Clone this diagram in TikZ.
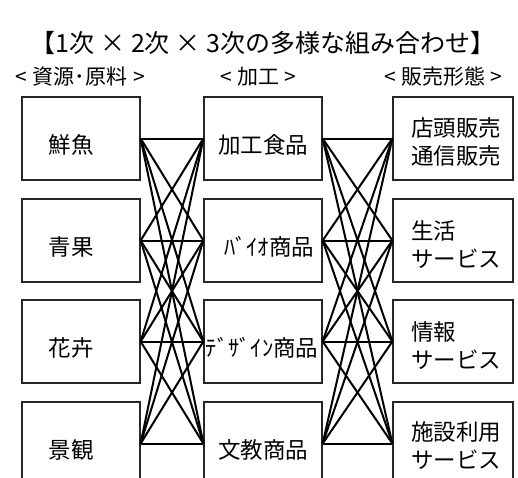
\documentclass[tikz,border=0pt]{standalone}
\usepackage{fontspec}
\setmainfont{Noto Sans CJK JP}
\begin{document}
\begin{tikzpicture}[x=1pt,y=-1pt,
  box/.style={draw=black!85, line width=1.3pt, minimum width=118pt, minimum height=83pt, inner sep=0pt},
  link/.style={line width=2pt, black},
  txt/.style={font=\fontsize{22.5}{28}\selectfont, inner sep=0pt},
  hdr/.style={font=\fontsize{21}{25}\selectfont, inner sep=0pt}]
\useasboundingbox (0,0) rectangle (518,477);
\clip (0,0) rectangle (518,477);
% boxes
\foreach \n/\y in {1/138.5,2/240.5,3/341.5,4/443.5}{
  \node[box] (L\n) at (81,\y) {};
  \node[box] (M\n) at (263,\y) {};
  \node[box, minimum width=120pt] (R\n) at (453,\y) {};
}
% links
\foreach \i in {1,...,4}{
  \foreach \j in {1,...,4}{
    \draw[link] (L\i.east) -- (M\j.west);
    \draw[link] (M\i.east) -- (R\j.west);
  }
}
% title and headers
\node[font=\fontsize{25}{30}\selectfont, inner sep=0pt] (title) at (263,43) {【1次 × 2次 × 3次の多様な組み合わせ】};
\node[hdr] (hA) at (80,77) {<\hspace{6pt}資源･原料\hspace{6pt}>};
\node[hdr] (hB) at (258,77) {<\hspace{5pt}加工\hspace{5pt}>};
\node[hdr] (hC) at (443,77) {<\hspace{5pt}販売形態\hspace{5pt}>};
% left texts
\node[txt] (tL1) at (71,145) {鮮魚};
\node[txt] (tL2) at (71,247) {青果};
\node[txt] (tL3) at (71,348) {花卉};
\node[txt] (tL4) at (71,450) {景観};
% middle texts
\node[txt] (tM1) at (263,145) {加工食品};
\node[txt] (tM2) at (269,247) {ﾊﾞｲｵ商品};
\node[txt] (tM3) at (262,348) {ﾃﾞｻﾞｲﾝ商品};
\node[txt] (tM4) at (263,450) {文教商品};
% right texts
\node[txt, anchor=west, align=left] (tR1) at (411,142) {店頭販売\\通信販売};
\node[txt, anchor=west, align=left] (tR2) at (411,245) {生活\\サービス};
\node[txt, anchor=west, align=left] (tR3) at (411,346) {情報\\サービス};
\node[txt, anchor=west, align=left] (tR4) at (411,446) {施設利用\\サービス};
\end{tikzpicture}
\end{document}
